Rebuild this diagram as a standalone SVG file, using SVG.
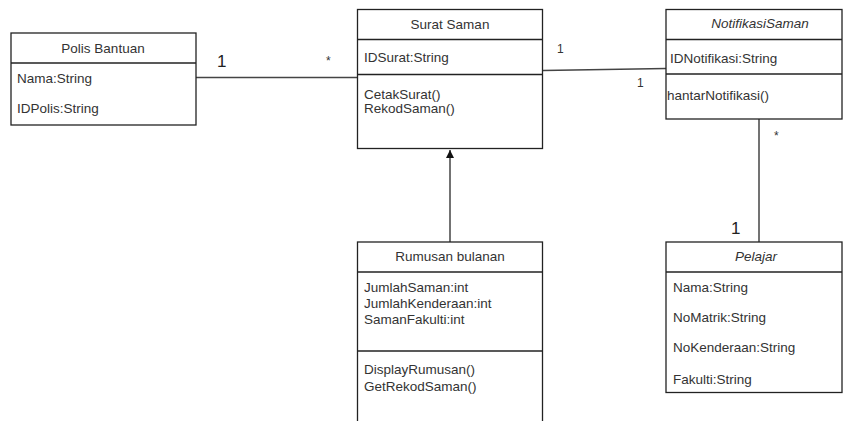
<svg xmlns="http://www.w3.org/2000/svg" width="843" height="421" viewBox="0 0 843 421">
<style>
.box{fill:#fff;stroke:#222;stroke-width:1.3}
.sep{stroke:#222;stroke-width:1.3}
text{font-family:"Liberation Sans",Arial,sans-serif;font-size:13.5px;fill:#333}
.t{text-anchor:middle}
.i{font-style:italic}
.big{font-size:17px;fill:#222}
.sm{font-size:12px}
.c{stroke:#444;stroke-width:1.5;fill:none}
</style>
<defs>
<marker id="arr" markerWidth="10" markerHeight="10" refX="8" refY="5" orient="auto" markerUnits="userSpaceOnUse">
<path d="M0,1 L8,5 L0,9 Z" fill="#111"/>
</marker>
</defs>
<rect width="843" height="421" fill="#fff"/>
<g id="connectors">
<line class="c" x1="196" y1="77.5" x2="357" y2="77.5"/>
<line class="c" x1="543" y1="70.5" x2="666" y2="68.5"/>
<line class="c" x1="759" y1="119" x2="759" y2="242"/>
<line class="c" x1="450" y1="242" x2="450" y2="150" marker-end="url(#arr)"/>
<text class="big" x="217" y="67">1</text>
<text class="sm" x="326" y="65">*</text>
<text class="sm" x="557" y="53">1</text>
<text class="sm" x="637" y="87">1</text>
<text class="sm" x="774" y="140">*</text>
<text class="big" x="731" y="234">1</text>
</g>
<g id="polis">
<rect class="box" x="11" y="33" width="185" height="92"/>
<line class="sep" x1="11" y1="63" x2="196" y2="63"/>
<text class="t" x="103" y="53">Polis Bantuan</text>
<text x="17" y="83">Nama:String</text>
<text x="17" y="113">IDPolis:String</text>
</g>
<g id="surat">
<rect class="box" x="357.5" y="9.5" width="185" height="139"/>
<line class="sep" x1="357.5" y1="39.5" x2="542.5" y2="39.5"/>
<line class="sep" x1="357.5" y1="74.5" x2="542.5" y2="74.5"/>
<text class="t" x="450" y="29">Surat Saman</text>
<text x="364" y="62">IDSurat:String</text>
<text x="364" y="99">CetakSurat()</text>
<text x="364" y="113">RekodSaman()</text>
</g>
<g id="notifikasi">
<rect class="box" x="666" y="9.5" width="176" height="109.5"/>
<line class="sep" x1="666" y1="39.5" x2="842" y2="39.5"/>
<line class="sep" x1="666" y1="74" x2="842" y2="74"/>
<text class="t i" x="760" y="28">NotifikasiSaman</text>
<text x="670" y="63">IDNotifikasi:String</text>
<text x="667" y="100">hantarNotifikasi()</text>
</g>
<g id="rumusan">
<rect class="box" x="357.5" y="242" width="185" height="200"/>
<line class="sep" x1="357.5" y1="272" x2="542.5" y2="272"/>
<line class="sep" x1="357.5" y1="351" x2="542.5" y2="351"/>
<text class="t" x="450" y="261">Rumusan bulanan</text>
<text x="364" y="292">JumlahSaman:int</text>
<text x="364" y="307.5">JumlahKenderaan:int</text>
<text x="364" y="323.5">SamanFakulti:int</text>
<text x="364" y="373.5">DisplayRumusan()</text>
<text x="364" y="391">GetRekodSaman()</text>
</g>
<g id="pelajar">
<rect class="box" x="666" y="242" width="176" height="150.5"/>
<line class="sep" x1="666" y1="272" x2="842" y2="272"/>
<text class="t i" x="756" y="261">Pelajar</text>
<text x="673" y="292">Nama:String</text>
<text x="673" y="322">NoMatrik:String</text>
<text x="673" y="352">NoKenderaan:String</text>
<text x="673" y="383.5">Fakulti:String</text>
</g>
</svg>
